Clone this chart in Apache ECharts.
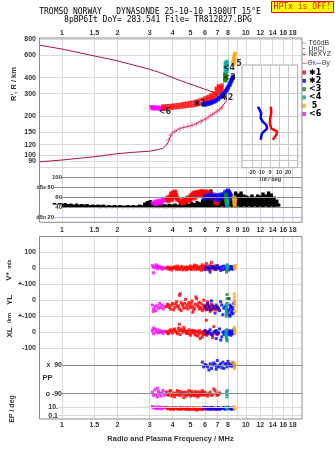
<!DOCTYPE html>
<html><head><meta charset="utf-8">
<script src="https://cdn.jsdelivr.net/npm/echarts@6/dist/echarts.min.js"></script>
<style>html,body{margin:0;padding:0;background:#fff}#c{width:335px;height:451px}</style>
</head><body><div id="c"></div>
<script>
// ---------- tick values / labels ----------
const freqGridValues = [1,1.5,2,3,4,5,6,7,8,9,10,12,14,16,18];
const freqLabelsTop = [1,1.5,2,3,4,5,6,7,8,10,12,14,16,18];
const freqLabelsMid = [1,1.5,2,3,4,5,6,7,8,9,10,12,14,16,18];
const freqLabelsBot = [1,1.5,2,3,4,5,6,7,8,10,12,14,16,18];
const heightTicks = [80,90,100,120,150,200,300,400,600,800];
const insetHeightTicks = [90,100,120,150,200,300,400];
const dbTicks = [20,40,60,80,100];
const tiltTicks = [-20,-10,0,10,20];

// ---------- height profile curves [MHz, km] ----------
const upperCurve = [[0.75,718],[1.0,668],[1.51,589],[1.99,542],[2.97,466],[3.41,438],[4.39,380],[5.63,335],[6.63,309],[7.1,285]];
const lowerCurve = [[0.75,88.2],[1.0,91.2],[1.51,96.8],[1.98,102],[2.43,104.7],[2.98,106.7],[3.3,109.7],[3.54,112.5],[3.71,119.4],[3.79,126.7],[3.95,147],[4.39,161],[5.18,171],[6.13,193],[7.24,226],[7.8,260],[7.86,276]];
const neXYZ = [[3.8,130],[3.92,142],[4.1,152],[4.35,159],[4.6,164],[4.85,167],[5.1,170],[5.4,174],[5.7,181],[6.0,189],[6.3,198],[6.6,207],[6.9,216],[7.2,225],[7.45,236]];

// ---------- echo traces [MHz, km] ----------
const trace6 = [[3.05,237],[3.08,230],[3.12,236],[3.16,229],[3.2,236],[3.24,229],[3.28,235],[3.32,229],[3.36,235],[3.4,228],[3.44,234],[3.48,228],[3.52,234],[3.56,228],[3.6,233],[3.64,229]];
const trace1 = [[3.54,240],[3.54,229],[3.68,241],[3.68,229],[3.82,242],[3.82,230],[3.97,243],[3.97,231],[4.12,245],[4.12,233],[4.28,246],[4.28,234],[4.45,249],[4.45,236],[4.61,251],[4.61,237],[4.79,253],[4.79,239],[4.97,256],[4.97,241],[5.16,258],[5.16,242],[5.36,262],[5.36,244],[5.56,266],[5.56,247],[5.78,271],[5.78,251],[6.0,278],[6.0,266],[6.0,255],[6.23,285],[6.23,272],[6.23,260],[6.46,293],[6.46,280],[6.46,267],[6.71,304],[6.71,290],[6.71,277],[6.97,317],[6.97,303],[6.97,289],[7.24,335],[7.24,320],[7.24,305],[7.42,350],[7.42,335],[7.42,320],[7.1,345],[6.9,330]];
const trace2 = [[5.85,251],[6.0,252],[6.15,253],[6.3,255],[6.46,258],[6.63,262],[6.8,265],[6.93,270],[7.06,275],[7.2,281],[7.33,288],[7.42,293],[7.51,298],[7.6,303],[7.7,309],[7.78,316],[7.85,323],[7.92,330],[8.0,338],[8.08,347],[8.15,357],[8.23,366],[8.31,376],[8.36,385],[8.41,394],[8.47,401],[8.52,408],[5.9,244],[6.1,246],[6.3,248],[6.5,252],[6.7,257],[6.9,263],[7.1,270],[7.3,280],[7.45,288],[7.6,296],[7.75,305],[7.9,318],[8.05,333],[8.2,350],[8.3,366],[8.4,382],[8.5,398]];
const trace3 = [[7.68,378],[7.68,390],[7.68,402],[7.68,414],[7.68,426],[7.8,380],[7.8,392],[7.8,404],[7.8,416],[7.8,428]];
const trace4 = [[7.75,445],[7.75,465],[7.75,485],[7.75,505],[7.75,525],[7.9,450],[7.9,470],[7.9,490],[7.9,510],[7.9,535]];
const trace5 = [[8.5,505],[8.5,525],[8.55,545],[8.6,565],[8.65,585],[8.7,605],[8.75,620],[8.7,560],[8.65,530],[8.6,515]];
const traceLabels = [[5.63,249,'✱1'],[7.93,276,'✱2'],[8.17,397,'<3'],[8.1,473,'<4'],[9.18,511,'5'],[3.63,216,'<6']];

// ---------- tilt inset [deg, km] ----------
const tiltBlue = [[-13.3,237],[-11.4,224],[-9.7,211],[-10.3,193],[-7.8,181],[-4.1,171],[-3,161],[-5.9,154],[-8.9,147],[-9.7,138],[-10.3,131]];
const tiltRed = [[0.8,237],[1.4,224],[1.4,211],[0.3,193],[0,176],[1.4,161],[5.2,156],[8.1,151],[7,143],[4.4,135],[3.3,131]];

// ---------- amplitude panel: noise [MHz, low dB, high dB] ----------
const noiseBand = [[0.91,42,49],[0.94,41,47],[0.97,42,49],
[1.0,41,48],[1.04,41,49],[1.08,40,47],[1.12,40,48],[1.16,40,46],[1.2,40,48],[1.24,40,46],[1.28,40,47],[1.32,40,46],
[1.37,40,47],[1.42,40,45],[1.47,40,46],[1.52,40,45],[1.57,40,46],[1.62,39,45],[1.68,40,46],[1.74,39,44],[1.8,40,45],[1.86,39,44],[1.93,40,45],
[2.0,39,44],[2.07,40,45],[2.14,39,44],[2.21,40,44],[2.29,39,45],[2.37,40,44],[2.45,39,45],[2.54,40,44],[2.63,39,46],[2.72,40,45],[2.82,40,50],[2.92,39,53],
[3.02,40,55],[3.13,39,49],[3.24,40,47],[3.35,39,48],[3.47,40,47],[3.59,39,47],[3.72,39,46],[3.85,40,47],[3.98,39,46],
[4.12,39,48],[4.27,40,46],[4.42,39,49],[4.57,40,47],[4.73,39,50],[4.9,40,48],
[5.07,40,51],[5.25,39,49],[5.43,40,53],[5.62,40,51],[5.82,40,56],
[6.02,41,58],[6.23,40,62],[6.45,41,76],[6.68,40,60],[6.91,41,63],
[7.15,41,58],[7.4,42,64],[7.66,41,66],[7.93,42,70],
[8.21,42,68],[8.5,41,62],[8.8,42,72],
[9.1,42,68],[9.42,41,72],[9.75,42,66],
[10.1,41,64],[10.45,42,62],[10.8,41,66],
[11.2,42,62],[11.6,41,66],
[12.0,42,64],[12.4,41,70],[12.85,42,66],
[13.3,41,72],[13.75,42,68],
[14.25,41,62],[14.75,42,56],[15.1,42,48]];
const dbe6 = [[3.12,50],[3.18,48],[3.22,52],[3.28,49],[3.33,53],[3.38,51],[3.44,54],[3.5,52],[3.55,56],[3.6,54],[3.65,57],[3.48,49],[3.25,47],[3.4,48]];
const dbe1 = [[3.72,55],[3.78,58],[3.85,62],[3.9,60],[3.95,65],[4.0,63],[4.05,67],[4.1,64],[4.15,68],[4.2,62],[4.25,58],[4.3,55],[4.38,52],[4.45,50],[4.52,54],[4.6,57],[4.68,53],[4.75,56],[4.82,60],[4.9,58],[4.98,62],[5.05,65],[5.12,63],[5.2,67],[5.28,64],[5.36,68],[5.45,66],[5.55,69],[5.65,70],[5.75,67],[5.85,70],[5.95,68],[6.05,71],[6.15,69],[6.3,67],[6.45,65],[6.6,62],[6.75,58],[6.9,52],[7.0,48],[7.1,55],[4.1,70],[5.0,55],[5.3,58],[6.2,62],[6.8,50],
[3.75,60],[3.8,52],[3.88,57],[3.92,68],[3.98,55],[4.02,70],[4.08,60],[4.12,72],[4.18,65],[4.22,56],[4.5,48],[4.55,51],[4.65,50],[4.7,55],[4.78,52],[4.85,54],[4.95,57],[5.0,60],[5.1,58],[5.15,68],[5.25,70],[5.32,62],[5.4,71],[5.5,63],[5.6,72],[5.7,64],[5.8,73],[5.9,65],[6.0,66],[6.1,72],[6.25,70],[6.4,70],[6.5,60],[6.7,66],[6.95,50],[7.05,52]];
const dbe2 = [[5.9,58],[6.0,62],[6.1,60],[6.2,64],[6.35,62],[6.5,66],[6.65,63],[6.8,60],[6.95,65],[7.1,62],[7.25,58],[7.4,63],[7.55,66],[7.7,70],[7.85,72],[8.0,74],[8.1,71],[8.2,68],[8.3,64],[8.4,60],[8.5,57],[8.6,55],[7.9,62],[8.05,66],[6.6,57],[7.0,55],[7.3,66],[7.5,60],[8.15,62],[8.35,58]];
const dbe3 = [[7.78,58],[7.8,54],[7.82,62],[7.85,50],[7.8,66]];
const dbe4 = [[7.9,52],[7.92,48],[7.95,56],[7.9,45]];
const dbe5 = [[8.6,58],[8.65,52],[8.7,48],[8.75,55],[8.7,45],[8.65,60]];

// ---------- V* (m/s) ----------
const v6 = [[3.1,15],[3.15,-30],[3.2,5],[3.25,20],[3.3,-5],[3.35,10],[3.4,0],[3.45,8],[3.5,-8],[3.55,3],[3.6,-2],[3.15,5],[3.3,12]];
const v1 = [[3.7,0],[3.8,-8],[3.9,5],[4.0,-5],[4.1,8],[4.2,-10],[4.3,2],[4.4,-6],[4.5,10],[4.6,-4],[4.7,6],[4.8,-8],[4.9,3],[5.0,12],[5.1,-5],[5.2,8],[5.3,-10],[5.4,15],[5.5,0],[5.6,-8],[5.7,10],[5.8,20],[5.9,-5],[6.0,12],[6.1,28],[6.2,5],[6.3,-12],[6.4,18],[6.5,35],[6.6,8],[6.7,-6],[6.8,14],[6.9,2],[7.0,10],[7.2,-4],[4.25,12],[4.75,-12],[5.25,18],[5.75,-14],
[3.75,5],[3.85,-3],[3.95,-12],[4.05,3],[4.15,-2],[4.35,-8],[4.45,4],[4.55,-12],[4.65,2],[4.85,5],[4.95,-3],[5.05,-10],[5.15,4],[5.35,2],[5.45,-6],[5.55,6],[5.65,-2],[5.85,4],[5.95,8],[6.05,-6],[6.15,4],[6.25,-8],[6.35,10],[6.45,0],[6.55,-4],[6.75,6],[6.85,-10],[6.95,5],[7.1,0]];
const v2 = [[6.0,-10],[6.2,5],[6.4,-25],[6.6,10],[6.8,-5],[7.0,15],[7.2,0],[7.4,8],[7.5,-10],[7.6,12],[7.7,-6],[8.0,5],[8.1,-12],[8.2,10],[8.3,-4],[8.4,6],[8.5,-8],[8.6,3],[6.5,0],[7.3,-15],
[6.1,5],[6.3,-5],[6.7,3],[6.9,-8],[7.1,4],[7.8,-3],[7.9,6],[8.05,-5],[8.15,3],[8.35,8],[8.45,-3],[8.55,5]];
const v3 = [[7.85,-25],[7.9,-10],[7.88,10],[7.92,20],[7.86,0]];
const v4 = [[7.95,15],[8.0,5],[7.97,-5]];
const v5 = [[8.65,10],[8.7,0],[8.75,15],[8.7,-5]];

// ---------- YL (km) ----------
const yl6 = [[3.1,-30],[3.15,-55],[3.2,-40],[3.25,-65],[3.3,-35],[3.35,-50],[3.4,-20],[3.45,-45],[3.5,-30],[3.55,-55],[3.6,-40],[3.15,-70]];
const yl1 = [[3.7,-40],[3.8,-30],[3.9,-55],[4.0,-20],[4.1,-45],[4.2,-10],[4.3,-35],[4.4,40],[4.5,-25],[4.6,-50],[4.7,5],[4.8,-30],[4.9,-15],[5.0,-45],[5.1,-5],[5.2,-60],[5.3,-25],[5.4,10],[5.5,-40],[5.6,-55],[5.7,-20],[5.8,-65],[5.9,0],[6.0,-35],[6.1,-60],[6.2,-10],[6.3,-45],[6.4,-70],[6.5,-25],[6.6,-55],[6.7,-40],[6.9,-60],[7.1,-50],[4.35,30],[5.35,20],[5.15,-75],[4.45,-65],
[3.75,-25],[3.85,-45],[3.95,-30],[4.05,-60],[4.15,-25],[4.25,-40],[4.35,-55],[4.45,-15],[4.55,-35],[4.65,-20],[4.75,-45],[4.85,-55],[4.95,-35],[5.05,-20],[5.15,-40],[5.25,-50],[5.45,-30],[5.55,-15],[5.65,-45],[5.75,-50],[5.85,-30],[5.95,-55],[6.05,-45],[6.15,-30],[6.25,-55],[6.35,-35],[6.45,-50],[6.55,-60],[6.75,-45],[6.85,-55],[7.0,-40]];
const yl2 = [[6.0,-40],[6.2,-20],[6.4,-60],[6.6,-35],[6.8,-80],[7.0,-45],[7.2,-65],[7.4,-30],[7.5,-90],[7.6,-50],[8.0,-70],[8.2,-100],[8.3,-40],[8.4,-85],[8.5,-55],[8.6,-20],[8.1,10],[8.2,-30],[7.3,-10],[6.5,-5],
[6.1,-55],[6.3,-40],[6.7,-50],[6.9,-30],[7.1,-55],[7.7,-40],[8.05,-60],[8.15,-90],[8.35,-70],[8.45,-45],[8.55,-80],[8.25,-50]];
const yl3 = [[7.85,-40],[7.88,-60],[7.9,-20],[7.92,10],[7.87,-80],[7.9,35]];
const yl4 = [[7.8,-50],[7.82,-70],[7.85,-90],[7.8,-30],[7.83,-100]];
const yl5 = [[8.65,40],[8.7,20],[8.68,-10],[8.72,-40],[8.75,-70],[8.7,-20],[8.66,0]];

// ---------- XL (km) ----------
const xl6 = [[3.1,10],[3.15,-10],[3.2,20],[3.25,0],[3.3,15],[3.35,-5],[3.4,10],[3.45,0],[3.5,5],[3.55,-8],[3.6,3],[3.15,25]];
const xl1 = [[3.7,5],[3.8,-10],[3.9,15],[4.0,-5],[4.1,20],[4.2,0],[4.3,25],[4.4,-15],[4.5,10],[4.6,30],[4.7,5],[4.8,-10],[4.9,15],[5.0,-20],[5.1,10],[5.2,0],[5.3,-15],[5.4,5],[5.5,-25],[5.6,10],[5.7,-5],[5.8,-30],[5.9,5],[6.0,-15],[6.2,0],[6.4,-10],[6.6,-35],[6.8,-5],[7.0,-15],[4.35,50],[6.7,35],[5.65,-40],[6.1,75],
[3.75,-5],[3.85,10],[3.95,0],[4.05,15],[4.15,5],[4.25,-10],[4.35,10],[4.45,20],[4.55,0],[4.65,15],[4.75,-5],[4.85,5],[4.95,-10],[5.05,5],[5.15,-5],[5.25,10],[5.35,-20],[5.45,0],[5.55,-10],[5.75,0],[5.85,-15],[5.95,-5],[6.05,5],[6.15,-20],[6.3,-5],[6.5,-15],[6.9,-10],[7.1,-5]];
const xl2 = [[6.0,10],[6.2,-5],[6.4,15],[6.6,-20],[6.8,5],[7.0,-10],[7.2,20],[7.4,-30],[7.5,0],[7.6,-15],[8.0,-5],[8.2,10],[8.3,-20],[8.4,0],[8.5,-10],[8.6,15],[7.3,-50],[6.9,-40],
[6.1,-10],[6.3,5],[6.5,-10],[6.7,0],[6.9,10],[7.1,-5],[7.7,5],[8.05,-15],[8.15,0],[8.35,-10],[8.45,5],[8.55,-5]];
const xl3 = [[7.85,-20],[7.88,-40],[7.9,-55],[7.86,0],[7.9,15]];
const xl4 = [[7.8,-10],[7.82,-30],[7.85,-45],[7.8,10],[7.83,-20]];
const xl5 = [[8.65,30],[8.7,10],[8.72,0],[8.68,20],[8.74,-5]];

// ---------- PP (deg) ----------
const pp6 = [[3.1,-80],[3.15,-100],[3.2,-65],[3.25,-95],[3.3,-110],[3.35,-75],[3.4,-90],[3.45,-105],[3.5,-85],[3.55,-70],[3.6,-100],[3.3,-55]];
const pp1 = [[3.7,-80],[3.8,-100],[3.9,-70],[4.0,-95],[4.1,-110],[4.2,-85],[4.3,-100],[4.4,-75],[4.5,-90],[4.6,-115],[4.7,-80],[4.8,-95],[4.9,-70],[5.0,-105],[5.1,-85],[5.2,-100],[5.3,-75],[5.4,-95],[5.5,-110],[5.6,-80],[5.7,-90],[5.8,-70],[5.9,-100],[6.0,-85],[6.2,-105],[6.4,-80],[6.6,-95],[6.8,-70],[7.0,-100],[7.2,-85],[6.7,-60],
[3.75,-95],[3.85,-75],[3.95,-105],[4.05,-85],[4.15,-95],[4.25,-70],[4.35,-90],[4.45,-100],[4.55,-80],[4.65,-95],[4.75,-105],[4.85,-85],[4.95,-95],[5.05,-75],[5.15,-100],[5.25,-90],[5.35,-105],[5.45,-80],[5.55,-95],[5.65,-100],[5.75,-85],[5.85,-95],[5.95,-80],[6.1,-95],[6.3,-90],[6.5,-100],[6.9,-90],[7.1,-95]];
const pp2 = [[5.8,110],[6.0,95],[6.2,80],[6.4,100],[6.5,70],[6.7,105],[6.9,85],[7.0,120],[7.2,90],[7.4,75],[7.5,110],[7.7,95],[7.9,80],[8.1,100],[8.3,85],[8.5,105],[6.3,60],[6.9,65],[7.6,70],[8.0,115],[5.9,80],[6.6,92],[7.3,100],
[6.1,90],[6.8,95],[7.1,80],[7.8,100],[8.2,90],[8.4,95],[8.55,85]];
const pp3 = [];
const pp4 = [[7.85,-80],[7.9,-95],[7.88,-110],[7.92,-70]];
const pp5 = [[8.4,110],[8.6,95],[8.7,80],[8.75,100],[8.65,70]];

// ---------- EP (deg) ----------
const ep6 = [[3.1,12],[3.15,6],[3.2,9],[3.25,4],[3.3,8],[3.35,5],[3.4,10],[3.45,4],[3.5,7],[3.55,5],[3.6,8]];
const ep1 = [[3.7,8],[3.8,5],[3.9,3],[4.0,7],[4.1,4],[4.2,6],[4.3,3],[4.4,8],[4.5,4],[4.6,6],[4.7,3],[4.8,7],[4.9,2.5],[5.0,5],[5.1,3],[5.2,7],[5.3,4],[5.4,2],[5.5,6],[5.6,3],[5.7,5],[5.8,2.5],[6.0,6],[6.2,4],[6.4,7],[6.6,3],[6.8,5],[7.0,4],
[3.75,4],[3.85,6],[3.95,5],[4.05,3],[4.15,7],[4.25,4],[4.35,5],[4.45,3],[4.55,6],[4.65,4],[4.75,5],[4.85,3],[4.95,6],[5.05,4],[5.15,5],[5.25,3],[5.35,6],[5.45,4],[5.55,3],[5.65,6],[5.75,4],[5.85,5],[6.1,3],[6.3,5],[6.5,4],[6.7,6],[6.9,3],[7.1,5]];
const ep2 = [[5.9,8],[6.1,6],[6.3,4],[6.5,8],[6.7,5],[6.9,3],[7.1,7],[7.3,4],[7.5,6],[7.7,3],[8.0,8],[8.2,5],[8.4,3],[8.5,6],[8.6,4],
[6.0,4],[6.2,7],[6.4,3],[6.6,6],[6.8,4],[7.0,6],[7.2,3],[7.4,5],[7.6,7],[7.8,4],[8.1,6],[8.3,4],[8.45,5]];
const ep3 = [[7.82,5]];
const ep4 = [[7.85,6],[7.9,3],[7.88,9]];
const ep5 = [[8.65,8],[8.7,4],[8.75,6],[8.6,10]];

// ---------- modes ----------
const modeNames = ['✱1','✱2','<3','<4','5','<6'];
const modeColors = ['#ff0000','#0000ff','#128c12','#00a8a8','#ffa800','#ff00ff'];
const drawOrder = [5,0,1,2,3,4];
const traceSets = [trace1,trace2,trace3,trace4,trace5,trace6];
const dbeSets = [dbe1,dbe2,dbe3,dbe4,dbe5,dbe6];
const vSets = [v1,v2,v3,v4,v5,v6];
const ylSets = [yl1,yl2,yl3,yl4,yl5,yl6];
const xlSets = [xl1,xl2,xl3,xl4,xl5,xl6];
const ppSets = [pp1,pp2,pp3,pp4,pp5,pp6];
const epSets = [ep1,ep2,ep3,ep4,ep5,ep6];

// ---------- styling ----------
const FMIN = 0.7496, FMAX = 20.22;
const FONT = 'Liberation Sans, Arial, sans-serif';
const LAB = {fontFamily:FONT, fontSize:7, fontWeight:'bold', color:'#333'};
const GRIDC = '#d9d9d9';
const fmtF = v => String(Math.round(v*10)/10);

function fx(gi, extra) {
  return Object.assign({
    type:'log', logBase:10, gridIndex:gi, min:FMIN, max:FMAX,
    axisLine:{show:false},
    axisTick:{show:false, customValues:freqGridValues},
    axisLabel:{show:false},
    splitLine:{show:true, lineStyle:{color:GRIDC, width:1}}
  }, extra || {});
}
function fxLab(gi, labels, pos, margin, extra) {
  return fx(gi, Object.assign({
    position:pos,
    axisLabel:Object.assign({show:true, customValues:labels, margin:margin, formatter:fmtF}, LAB)
  }, extra || {}));
}

const series = [];
series.push({type:'line', xAxisIndex:0, yAxisIndex:0, data:upperCurve, showSymbol:false, symbol:'none', lineStyle:{color:'#a8163c', width:1}, z:2});
series.push({type:'line', xAxisIndex:0, yAxisIndex:0, data:lowerCurve, showSymbol:false, symbol:'none', lineStyle:{color:'#a8163c', width:1}, z:2});
series.push({type:'scatter', xAxisIndex:0, yAxisIndex:0, data:neXYZ, symbol:'path://M2,0H3V2H5V3H3V5H2V3H0V2H2Z', symbolSize:5, itemStyle:{color:'#e0608a'}, z:2});
drawOrder.forEach(i => series.push({name:modeNames[i], type:'scatter', xAxisIndex:0, yAxisIndex:0, data:traceSets[i], symbol:'rect', symbolSize:3.5, itemStyle:{color:modeColors[i]}, z:3}));
series.push({type:'scatter', xAxisIndex:0, yAxisIndex:0, data:traceLabels, symbolSize:1, itemStyle:{color:'rgba(0,0,0,0)'}, z:5,
  label:{show:true, position:'inside', formatter:p => p.data[2], fontFamily:'DejaVu Sans, sans-serif', fontSize:8, fontWeight:'bold', color:'#000'}});
series.push({type:'custom', xAxisIndex:1, yAxisIndex:1, data:noiseBand, encode:{x:0, y:[1,2]}, z:2,
  renderItem:(params, api) => {
    const lo = api.coord([api.value(0), api.value(1)]);
    const hi = api.coord([api.value(0), api.value(2)]);
    return {type:'rect', shape:{x:lo[0]-1.7, y:hi[1], width:3.4, height:lo[1]-hi[1]}, style:{fill:'#000'}};
  }});
drawOrder.forEach(i => series.push({name:modeNames[i], type:'scatter', xAxisIndex:1, yAxisIndex:1, data:dbeSets[i], symbol:'rect', symbolSize:4, itemStyle:{color:modeColors[i]}, z:3}));
series.push({type:'line', xAxisIndex:2, yAxisIndex:2, data:tiltBlue, symbol:'none', lineStyle:{color:'#0000ff', width:2.5}, z:6});
series.push({type:'line', xAxisIndex:2, yAxisIndex:2, data:tiltRed, symbol:'none', lineStyle:{color:'#ff0000', width:2.5}, z:6});
[[3,vSets],[4,ylSets],[5,xlSets],[6,ppSets],[7,epSets]].forEach(([gi, sets]) => {
  drawOrder.forEach(i => series.push({name:modeNames[i], type:'scatter', xAxisIndex:gi, yAxisIndex:gi, data:sets[i], symbol:'rect', symbolSize:3, itemStyle:{color:modeColors[i]}, z:3}));
});

// inside labels: white-backed token of fixed width so gridline starts right after the text
const tok = (w, size) => ({width:w, align:'right', backgroundColor:'#fff', fontFamily:FONT, fontSize:size, fontWeight:'bold', color:'#333'});
const RICH = {
  w23:tok(23, 7), d23:tok(23, 6), u:{fontFamily:FONT, fontSize:5, fontWeight:'bold', color:'#333', backgroundColor:'#fff', align:'right'},
  n:{fontFamily:FONT, fontSize:6, fontWeight:'bold', color:'#333', backgroundColor:'#fff', align:'right'},
  w19:tok(19, 7), s8:{width:8, align:'right'}, s4:{width:4, align:'right'}
};
const insideLab = (fmt, vals) => Object.assign({}, LAB, {show:true, inside:true, margin:23, align:'right', formatter:fmt, rich:RICH, customValues:vals});

const option = {
  animation:false,
  backgroundColor:'#fff',
  title:[
    {text:'TROMSO NORWAY   DYNASONDE 25-10-10 1300UT 15°E', left:150, top:8, textAlign:'center', padding:0,
     textStyle:{fontFamily:'DejaVu Sans Mono, monospace', fontSize:8, fontWeight:'normal', color:'#000'}},
    {text:'8pBP6It DoY= 283.541 File= TR812827.BPG', left:158, top:15.5, textAlign:'center', padding:0,
     textStyle:{fontFamily:'DejaVu Sans Mono, monospace', fontSize:8, fontWeight:'normal', color:'#000'}}
  ],
  legend:{data:modeNames, orient:'vertical', left:302, top:68.5, itemWidth:4, itemHeight:4, itemGap:0.3, padding:0, icon:'rect',
    selectedMode:false, formatter:n => n === '5' ? ' 5' : n,
    textStyle:{fontFamily:'DejaVu Sans, sans-serif', fontSize:8, lineHeight:8, fontWeight:'bold', color:'#000', padding:[0,0,0,-2]}},
  grid:[
    {left:39, top:38, width:263, height:134, outerBoundsMode:'none'},
    {left:39, top:172, width:263, height:50.3, outerBoundsMode:'none'},
    {left:242, top:65, width:55.7, height:102.7, show:true, backgroundColor:'#fff', borderColor:'#aaa', borderWidth:1, z:2, outerBoundsMode:'none'},
    {left:39, top:236.5, width:263, height:47.5, outerBoundsMode:'none'},
    {left:39, top:284, width:263, height:32.3, outerBoundsMode:'none'},
    {left:39, top:316.3, width:263, height:31.7, outerBoundsMode:'none'},
    {left:39, top:348, width:263, height:52, outerBoundsMode:'none'},
    {left:39, top:400, width:263, height:19, outerBoundsMode:'none'}
  ],
  xAxis:[
    fxLab(0, freqLabelsTop, 'top', 1),
    fxLab(1, freqLabelsMid, 'bottom', 4),
    {type:'value', gridIndex:2, min:-31, max:30.8, z:3,
     axisLine:{show:false}, axisTick:{show:false, customValues:tiltTicks},
     axisLabel:{show:true, customValues:tiltTicks, margin:1.5, fontFamily:FONT, fontSize:5.5, fontWeight:'bold', color:'#333'},
     splitLine:{show:true, lineStyle:{color:'#c8c8c8'}},
     name:'Tilt / deg', nameLocation:'middle', nameGap:8, nameTextStyle:{fontFamily:FONT, fontSize:5.5, fontWeight:'bold', color:'#333'}},
    fx(3), fx(4), fx(5), fx(6),
    fxLab(7, freqLabelsBot, 'bottom', 3, {name:'Radio and Plasma Frequency / MHz', nameLocation:'middle', nameGap:15.5,
      nameTextStyle:{fontFamily:FONT, fontSize:7.5, fontWeight:'bold', color:'#333'}})
  ],
  yAxis:[
    {type:'log', logBase:10, gridIndex:0, min:73.55, max:814.6,
     axisLine:{show:false}, axisTick:{show:false, customValues:heightTicks},
     axisLabel:Object.assign({show:true, customValues:heightTicks, margin:3, formatter:v => String(Math.round(v))}, LAB),
     splitLine:{show:true, lineStyle:{color:GRIDC}}},
    {type:'value', gridIndex:1, min:10.9, max:110.5, z:4,
     axisLine:{show:false}, axisTick:{show:false, customValues:dbTicks},
     axisLabel:insideLab(v => {
        const r = Math.round(v);
        if (r === 80) return '{u|dBe }{n|80}{s8|}';
        if (r === 20) return '{u|dBn }{n|20}{s8|}';
        return '{d23|' + r + '}';
      }, dbTicks),
     splitLine:{show:true, lineStyle:{color:['#b4b4ff','#909090','#909090','#909090','#909090'], width:1}}},
    {type:'log', logBase:10, gridIndex:2, min:79.4, max:501.6, z:3,
     axisLine:{show:false}, axisTick:{show:false, customValues:insetHeightTicks}, axisLabel:{show:false},
     splitLine:{show:true, lineStyle:{color:'#c8c8c8'}}},
    {type:'value', gridIndex:3, min:-100, max:196.9,
     axisLine:{show:false}, axisTick:{show:false, customValues:[-100,0,100]},
     axisLabel:Object.assign({show:true, customValues:[-100,0,100], margin:3, formatter:v => v < -50 ? '+-100' : String(Math.round(v))}, LAB),
     splitLine:{show:true, lineStyle:{color:GRIDC}}},
    {type:'value', gridIndex:4, min:-100, max:100,
     axisLine:{show:false}, axisTick:{show:false, customValues:[-100,0]},
     axisLabel:Object.assign({show:true, customValues:[-100,0], margin:3, formatter:v => v < -50 ? '+-100' : '0'}, LAB),
     splitLine:{show:true, lineStyle:{color:GRIDC}}},
    {type:'value', gridIndex:5, min:-100, max:100,
     axisLine:{show:false}, axisTick:{show:false, customValues:[-100,0]},
     axisLabel:Object.assign({show:true, customValues:[-100,0], margin:3, formatter:v => v < -50 ? '-100' : '0'}, LAB),
     splitLine:{show:true, lineStyle:{color:GRIDC}}},
    {type:'value', gridIndex:6, min:-129.9, max:199.6, z:4,
     axisLine:{show:false}, axisTick:{show:false, customValues:[-90,90]},
     axisLabel:insideLab(v => v > 0 ? '{w23|x  90}' : '{w23|o -90}', [-90,90]),
     splitLine:{show:true, lineStyle:{color:'#909090'}}},
    {type:'log', logBase:10, gridIndex:7, min:0.0174, max:406, z:4,
     axisLine:{show:false}, axisTick:{show:false, customValues:[0.1,10]},
     axisLabel:insideLab(v => v > 1 ? '{w19|10.}{s4|}' : '{w19|0.1}{s4|}', [0.1,10]),
     splitLine:{show:true, lineStyle:{color:GRIDC}}}
  ],
  graphic:[
    {type:'rect', z:20, shape:{x:39.5, y:38, width:262.5, height:184.3}, style:{fill:null, stroke:'#8c8c8c', lineWidth:1}},
    {type:'rect', z:20, shape:{x:39.5, y:236.5, width:262.5, height:182.5}, style:{fill:null, stroke:'#8c8c8c', lineWidth:1}},
    {type:'rect', z:20, shape:{x:271.5, y:1.5, width:62, height:11}, style:{fill:'#ffff00', stroke:'#ff0000', lineWidth:1}},
    {type:'text', z:21, x:302.5, y:7.3, style:{text:'HPTx is OFF!', font:'8px "DejaVu Sans Mono", monospace', fill:'#ff0000', textAlign:'center', textVerticalAlign:'middle', align:'center', verticalAlign:'middle'}},
    {type:'text', z:20, x:14, y:84, rotation:Math.PI/2, style:{text:"R', R / km", font:'bold 7.5px "Liberation Sans", Arial', fill:'#333', textAlign:'center', textVerticalAlign:'middle', align:'center', verticalAlign:'middle'}},
    {type:'text', z:20, x:9, y:270, rotation:Math.PI/2, style:{text:'{b|V*} {s|m/s}', rich:{b:{font:'bold 8px "Liberation Sans", Arial', fill:'#333'}, s:{font:'bold 5.5px "Liberation Sans", Arial', fill:'#333'}}, textAlign:'center', textVerticalAlign:'middle', align:'center', verticalAlign:'middle'}},
    {type:'text', z:20, x:9.5, y:300, rotation:Math.PI/2, style:{text:'YL', font:'bold 8px "Liberation Sans", Arial', fill:'#333', textAlign:'center', textVerticalAlign:'middle', align:'center', verticalAlign:'middle'}},
    {type:'text', z:20, x:9.5, y:318, rotation:Math.PI/2, style:{text:'/km', font:'bold 6px "Liberation Sans", Arial', fill:'#333', textAlign:'center', textVerticalAlign:'middle', align:'center', verticalAlign:'middle'}},
    {type:'text', z:20, x:9.5, y:332.5, rotation:Math.PI/2, style:{text:'XL', font:'bold 8px "Liberation Sans", Arial', fill:'#333', textAlign:'center', textVerticalAlign:'middle', align:'center', verticalAlign:'middle'}},
    {type:'text', z:20, x:12, y:409, rotation:Math.PI/2, style:{text:'EP / deg', font:'bold 7px "Liberation Sans", Arial', fill:'#333', textAlign:'center', textVerticalAlign:'middle', align:'center', verticalAlign:'middle'}},
    {type:'text', z:20, x:47.5, y:378, style:{text:'PP', font:'bold 7.5px "Liberation Sans", Arial', fill:'#333', textAlign:'center', textVerticalAlign:'middle', align:'center', verticalAlign:'middle'}},
    {type:'line', z:20, shape:{x1:302, y1:43.3, x2:306, y2:43.3}, style:{stroke:'#aaaaaa', lineWidth:1}},
    {type:'text', z:20, x:308.5, y:43.3, style:{text:'T60dB', font:'7px "Liberation Sans", Arial', fill:'#333', textVerticalAlign:'middle', verticalAlign:'middle'}},
    {type:'rect', z:20, shape:{x:303.5, y:48, width:1, height:1}, style:{fill:'#000'}},
    {type:'text', z:20, x:308.5, y:48.6, style:{text:'UnCl', font:'7px "Liberation Sans", Arial', fill:'#333', textVerticalAlign:'middle', verticalAlign:'middle'}},
    {type:'text', z:20, x:304, y:54.3, style:{text:'+', font:'bold 8px "Liberation Sans", Arial', fill:'#e0608a', textAlign:'center', textVerticalAlign:'middle', align:'center', verticalAlign:'middle'}},
    {type:'text', z:20, x:308.5, y:54.3, style:{text:'NeXYZ', font:'7px "Liberation Sans", Arial', fill:'#333', textVerticalAlign:'middle', verticalAlign:'middle'}},
    {type:'line', z:20, shape:{x1:302, y1:63.3, x2:307, y2:63.3}, style:{stroke:'#e07090', lineWidth:1}},
    {type:'text', z:20, x:307.5, y:63.3, style:{text:'Θx', font:'6.5px "Liberation Sans", Arial', fill:'#333', textVerticalAlign:'middle', verticalAlign:'middle'}},
    {type:'line', z:20, shape:{x1:316, y1:63.3, x2:321, y2:63.3}, style:{stroke:'#8080e0', lineWidth:1}},
    {type:'text', z:20, x:321.5, y:63.3, style:{text:'Θy', font:'6.5px "Liberation Sans", Arial', fill:'#333', textVerticalAlign:'middle', verticalAlign:'middle'}}
  ],
  series:series
};

const chart = echarts.init(document.getElementById('c'), null, {renderer:'canvas', width:335, height:451});
chart.setOption(option);
</script></body></html>
